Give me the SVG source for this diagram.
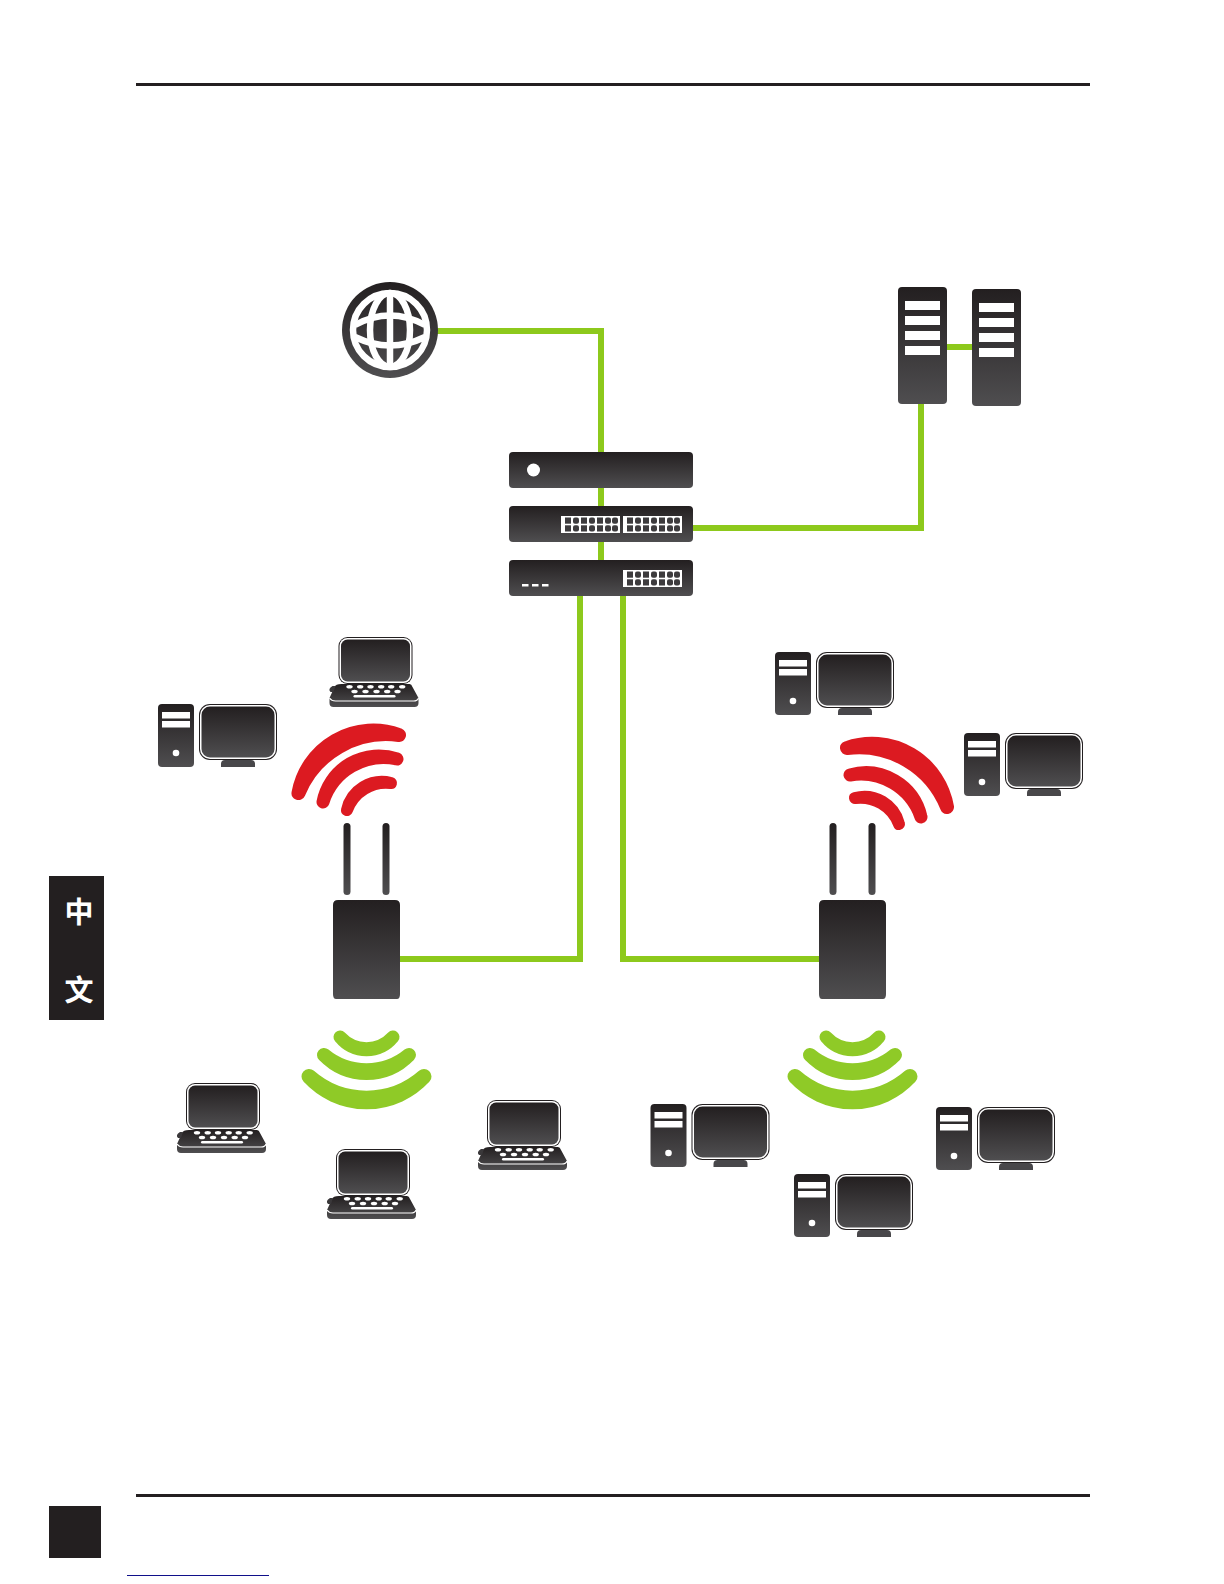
<svg xmlns="http://www.w3.org/2000/svg" xmlns:xlink="http://www.w3.org/1999/xlink" width="1224" height="1584" viewBox="0 0 1224 1584">
<style>
.link{fill:none;stroke:#8dc91c;stroke-width:6}
.rule{fill:#231f20}
.red{fill:#dc1a21;stroke:#dc1a21;stroke-linejoin:round}
.grn{fill:#8fca27;stroke:#8fca27;stroke-linejoin:round}
.w{fill:#fff}
.dk{fill:url(#g)}
.gl{fill:none;stroke:#fff;stroke-width:6.5}
.cjk{font-family:"Noto Sans CJK SC","Noto Sans",sans-serif;font-size:29px;font-weight:700;fill:#fff;text-anchor:middle}
</style>
<defs>
<linearGradient id="g" x1="0" y1="0" x2="0" y2="1"><stop offset="0" stop-color="#231f20"/><stop offset="1" stop-color="#4f4e50"/></linearGradient>
<g id="pc">
<rect class="dk" x="0" y="0" width="36" height="63" rx="4"/>
<rect class="w" x="4" y="8" width="28" height="6.5"/>
<rect class="w" x="4" y="17" width="28" height="6.5"/>
<circle class="w" cx="18" cy="49" r="3.3"/>
<rect x="41" y="0" width="78" height="56" rx="11" fill="#231f20"/>
<rect class="w" x="42" y="1" width="76" height="54" rx="10"/>
<rect class="dk" x="43.5" y="2.5" width="73" height="51" rx="8.5"/>
<path d="M63,63 v-3 q0,-4 4,-4 h26 q4,0 4,4 v3 z" fill="#48474a"/>
</g>
<g id="laptop">
<rect x="0" y="0" width="74" height="47" rx="9" fill="#231f20"/>
<rect class="w" x="1" y="1" width="72" height="45" rx="8"/>
<rect class="dk" x="2.5" y="2.5" width="69" height="42" rx="6.5"/>
<path d="M3,47 H71 Q73,47 74,50 L80,61 V66 Q80,70 76,70 H-5 Q-9,70 -9,66 V61 L-4,50 Q-3,47 3,47 Z" class="dk"/>
<path d="M-6,49 h3 l-2,6 h-3 q-3,-3 2,-6 z" fill="#3a383a"/>
<path d="M-9,61 Q-7,64 -3,64 H75 Q79,64 80,61" fill="none" stroke="#fff" stroke-width="1.2"/>
<g class="w">
<ellipse cx="11" cy="49.8" rx="3.2" ry="1.8"/><ellipse cx="21.7" cy="49.8" rx="3.2" ry="1.8"/><ellipse cx="32" cy="49.8" rx="3.2" ry="1.8"/><ellipse cx="42.7" cy="49.8" rx="3.2" ry="1.8"/><ellipse cx="52.7" cy="49.8" rx="3.2" ry="1.8"/><ellipse cx="63.7" cy="49.8" rx="3.2" ry="1.8"/>
<ellipse cx="16" cy="54.5" rx="3.2" ry="1.8"/><ellipse cx="27" cy="54.5" rx="3.2" ry="1.8"/><ellipse cx="38" cy="54.5" rx="3.2" ry="1.8"/><ellipse cx="48.7" cy="54.5" rx="3.2" ry="1.8"/><ellipse cx="59" cy="54.5" rx="3.2" ry="1.8"/>
<rect x="15" y="58" width="42" height="2.6" rx="1.3"/>
</g>
</g>
<g id="ports">
<rect class="w" x="0" y="0" width="59" height="17"/>
<g fill="#3d3b3d">
<rect x="4" y="1.5" width="6" height="6.2"/><rect x="12" y="1.5" width="6" height="6.2" rx="2"/><rect x="20" y="1.5" width="6" height="6.2"/><rect x="28" y="1.5" width="6" height="6.2" rx="2"/><rect x="36" y="1.5" width="6" height="6.2"/><rect x="44" y="1.5" width="6" height="6.2" rx="2"/><rect x="51" y="1.5" width="6" height="6.2" rx="2"/>
<rect x="4" y="9.3" width="6" height="6.2"/><rect x="12" y="9.3" width="6" height="6.2" rx="2"/><rect x="20" y="9.3" width="6" height="6.2"/><rect x="28" y="9.3" width="6" height="6.2" rx="2"/><rect x="36" y="9.3" width="6" height="6.2"/><rect x="44" y="9.3" width="6" height="6.2" rx="2"/><rect x="51" y="9.3" width="6" height="6.2" rx="2"/>
</g>
</g>
<g id="server">
<rect class="dk" x="0" y="0" width="49" height="117" rx="4"/>
<rect class="w" x="7" y="14" width="35" height="9"/>
<rect class="w" x="7" y="29" width="35" height="9"/>
<rect class="w" x="7" y="44" width="35" height="9"/>
<rect class="w" x="7" y="59" width="35" height="9"/>
</g>
<g id="ap">
<rect x="10.5" y="-77" width="7" height="72" rx="3.5" fill="url(#g)"/>
<rect x="49.5" y="-77" width="7" height="72" rx="3.5" fill="url(#g)"/>
<path class="dk" d="M5,0 H62 Q67,0 67,5 V94 Q67,99 64,99 H3 Q0,99 0,94 V5 Q0,0 5,0 Z"/>
</g>
<g id="waves">
<path class="grn" stroke-width="15" d="M309,1076.5 A78,78 0 0 0 424,1076.5 A87,87 0 0 1 309,1076.5 Z"/>
<path class="grn" stroke-width="14" d="M324,1055 A59,59 0 0 0 409,1055 A66.7,66.7 0 0 1 324,1055 Z"/>
<path class="grn" stroke-width="13" d="M340,1037 A34,34 0 0 0 393,1037 A36,36 0 0 1 340,1037 Z"/>
</g>
</defs>

<g id="page">
<rect width="1224" height="1584" fill="#fff"/>
<rect class="rule" x="136" y="83" width="954" height="3"/>
<rect class="rule" x="136" y="1494" width="954" height="3"/>
<rect class="rule" x="49" y="1506" width="52" height="52"/>
<rect x="127" y="1575" width="142" height="1" fill="#10108a"/>
<rect class="rule" x="49" y="876" width="55" height="144"/>
<text class="cjk" x="79" y="923">中</text>
<text class="cjk" x="79" y="1001">文</text>
</g>

<g id="connectors">
<path class="link" d="M430,331 H601 V575"/>
<path class="link" d="M680,528 H921 V395"/>
<path class="link" d="M940,347 H980"/>
<path class="link" d="M580,590 V959 H395"/>
<path class="link" d="M623,590 V959 H825"/>
</g>

<g id="internet">
<circle class="dk" cx="390" cy="330" r="48"/>
<circle class="gl" cx="390" cy="330" r="37"/>
<ellipse class="gl" cx="390" cy="330" rx="20" ry="37"/>
<path class="gl" d="M390,293 V367"/>
<path class="gl" d="M355,325 Q390,306 425,325"/>
<path class="gl" d="M355,337 Q390,354 425,337"/>
</g>

<g id="router"><rect class="dk" x="509" y="452" width="184" height="36" rx="4"/><circle class="w" cx="533.5" cy="470" r="6.5"/></g>
<g id="core-switch"><rect class="dk" x="509" y="506" width="184" height="36" rx="4"/><use href="#ports" x="561" y="516"/><use href="#ports" x="623" y="516"/></g>
<g id="access-switch"><rect class="dk" x="509" y="560" width="184" height="36" rx="4"/><use href="#ports" x="623" y="570"/><rect class="w" x="522" y="584" width="6.5" height="2.5"/><rect class="w" x="532" y="584" width="6.5" height="2.5"/><rect class="w" x="542" y="584" width="6.5" height="2.5"/></g>

<g id="server-1"><use href="#server" x="898" y="287"/></g>
<g id="server-2"><use href="#server" x="972" y="289"/></g>

<g id="ap-left"><use href="#ap" x="333" y="900"/></g>
<g id="ap-right"><use href="#ap" x="819" y="900"/></g>

<g id="wifi-red-left">
<path class="red" stroke-width="14" d="M298.5,793 A76,76 0 0 1 399,735 A95,95 0 0 0 298.5,793 Z"/>
<path class="red" stroke-width="13" d="M323,802 A56.7,56.7 0 0 1 397,759 A63.8,63.8 0 0 0 323,802 Z"/>
<path class="red" stroke-width="12" d="M347,810 A35.8,35.8 0 0 1 391,783 A41.5,41.5 0 0 0 347,810 Z"/>
</g>
<g id="wifi-red-right">
<path class="red" stroke-width="14" d="M847,748 A76,76 0 0 1 947,807 A95,95 0 0 0 847,748 Z"/>
<path class="red" stroke-width="13" d="M850,775 A56.7,56.7 0 0 1 921,817 A63.8,63.8 0 0 0 850,775 Z"/>
<path class="red" stroke-width="12" d="M855,798 A35.8,35.8 0 0 1 899,824 A41.5,41.5 0 0 0 855,798 Z"/>
</g>
<g id="wifi-green-left"><use href="#waves"/></g>
<g id="wifi-green-right"><use href="#waves" x="486"/></g>

<g id="pc-1"><use href="#pc" x="158" y="704"/></g>
<g id="pc-2"><use href="#pc" x="775" y="652"/></g>
<g id="pc-3"><use href="#pc" x="964" y="733"/></g>
<g id="pc-4"><use href="#pc" x="650.5" y="1104"/></g>
<g id="pc-5"><use href="#pc" x="936" y="1107"/></g>
<g id="pc-6"><use href="#pc" x="794" y="1174"/></g>

<g id="laptop-1"><use href="#laptop" x="338.5" y="637"/></g>
<g id="laptop-2"><use href="#laptop" x="186" y="1083"/></g>
<g id="laptop-3"><use href="#laptop" x="336" y="1149"/></g>
<g id="laptop-4"><use href="#laptop" x="487" y="1100"/></g>
</svg>
